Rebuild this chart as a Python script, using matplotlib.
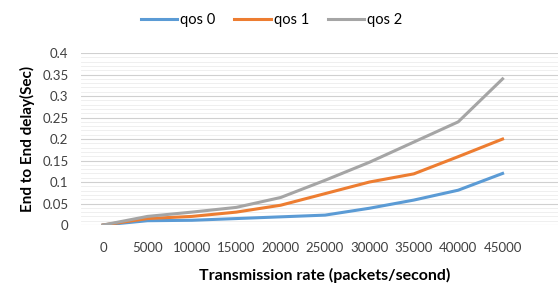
import matplotlib
matplotlib.use('Agg')
import matplotlib.pyplot as plt
import numpy as np

# data
rates = ['0', '5000', '10000', '15000', '20000', '25000', '30000', '35000', '40000', '45000']
qos0 = [0, 0.010, 0.011, 0.015, 0.019, 0.023, 0.039, 0.058, 0.081, 0.120]
qos1 = [0, 0.015, 0.020, 0.030, 0.046, 0.073, 0.100, 0.119, 0.159, 0.200]
qos2 = [0, 0.020, 0.030, 0.041, 0.064, 0.104, 0.146, 0.193, 0.240, 0.340]

plt.rcParams['font.family'] = ['Lato', 'DejaVu Sans']

fig = plt.figure(figsize=(5.58, 2.87), dpi=100)
ax = fig.add_axes([0.145, 0.216, 0.875, 0.599])

x = np.arange(len(rates))
ax.plot(x, qos0, color='#5B9BD5', lw=2.2, label='qos 0')
ax.plot(x, qos1, color='#ED7D31', lw=2.2, label='qos 1')
ax.plot(x, qos2, color='#A5A5A5', lw=2.2, label='qos 2')

# axes formatting
ax.set_xlim(-0.5, len(rates) + 0.5)
ax.set_ylim(0, 0.4)
ax.set_xticks(x)
ax.set_xticklabels(rates, fontsize=9.5, color='#404040')
ax.set_yticks(np.arange(0, 0.41, 0.05))
ax.set_yticklabels(['0', '0.05', '0.1', '0.15', '0.2', '0.25', '0.3', '0.35', '0.4'],
                   fontsize=9.5, color='#404040')
ax.set_yticks(np.arange(0, 0.401, 0.01), minor=True)
ax.grid(True, which='major', axis='y', color='#D0D0D0', lw=0.8)
ax.grid(True, which='minor', axis='y', color='#ECECEC', lw=0.6)
ax.set_axisbelow(True)
ax.tick_params(axis='both', which='both', length=0)
ax.tick_params(axis='x', pad=12)
ax.tick_params(axis='y', pad=9)
for s in ax.spines.values():
    s.set_visible(False)

ax.set_xlabel('Transmission rate (packets/second)', fontsize=11.5, fontweight='bold', labelpad=10)
ax.set_ylabel('End to End delay(Sec)', fontsize=11, fontweight='bold', labelpad=5)

fig.legend(loc='upper center', bbox_to_anchor=(0.487, 1.0), ncol=3, frameon=False,
           fontsize=10.5, handlelength=2.5, handletextpad=0.2, columnspacing=1.3)

plt.savefig('out.png', dpi=100)
